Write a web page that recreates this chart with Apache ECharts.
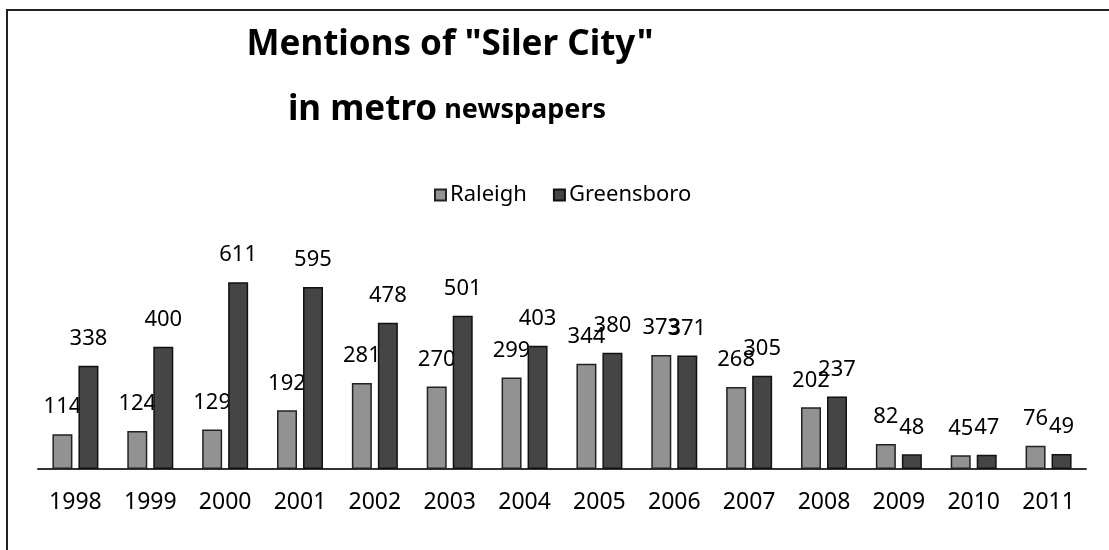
<!DOCTYPE html>
<html>
<head>
<meta charset="utf-8">
<script src="https://cdn.jsdelivr.net/npm/echarts@6/dist/echarts.min.js"></script>
<style>
  html, body { margin: 0; padding: 0; background: #fff; }
  #chart { width: 1109px; height: 550px; }
</style>
</head>
<body>
<div id="chart"></div>
<script>
var years = ['1998', '1999', '2000', '2001', '2002', '2003', '2004', '2005', '2006', '2007', '2008', '2009', '2010', '2011'];
var raleigh = [114, 124, 129, 192, 281, 270, 299, 344, 373, 268, 202, 82, 45, 76];
var greensboro = [338, 400, 611, 595, 478, 501, 403, 380, 371, 305, 237, 48, 47, 49];

var font = '"Noto Sans", "Open Sans", sans-serif';

var myChart = echarts.init(document.getElementById('chart'));
var option = {
	backgroundColor: '#fff',
	animation: false,
	graphic: [
		{ // 外框（左、上）
			type: 'polyline',
			shape: { points: [[7, 550], [7, 10], [1109, 10]] },
			style: { stroke: '#222', lineWidth: 2, fill: null }
		},
		{
			type: 'text',
			x: 450, y: 45,
			style: {
				text: 'Mentions of "Siler City"',
				font: 'bold 35px ' + font,
				fill: '#000',
				textAlign: 'center',
				textVerticalAlign: 'middle'
			}
		},
		{
			type: 'text',
			x: 447, y: 110,
			style: {
				text: '{a|in metro}{b| newspapers}',
				fill: '#000',
				textAlign: 'center',
				textVerticalAlign: 'middle',
				rich: {
					a: { fontFamily: font, fontWeight: 'bold', fontSize: 35, fill: '#000' },
					b: { fontFamily: font, fontWeight: 'bold', fontSize: 27, fill: '#000' }
				}
			}
		}
	],
	legend: {
		top: 179,
		left: 429,
		icon: 'rect',
		itemWidth: 11,
		itemHeight: 11,
		itemGap: 26,
		textStyle: { fontFamily: font, fontSize: 22, color: '#000', padding: [0, 0, 0, -1] },
		data: ['Raleigh', 'Greensboro']
	},
	grid: {
		left: 38,
		right: 23,
		top: 255,
		bottom: 81
	},
	xAxis: {
		type: 'category',
		data: years,
		axisLine: { lineStyle: { color: '#333', width: 2 } },
		axisTick: { show: false },
		axisLabel: { fontFamily: font, fontSize: 23, color: '#000', margin: 22 }
	},
	yAxis: {
		type: 'value',
		min: 0,
		max: 700,
		show: false,
		splitLine: { show: false }
	},
	series: [
		{
			name: 'Raleigh',
			type: 'bar',
			z: 2,
			barWidth: 20,
			barGap: '30%',
			itemStyle: { color: '#929292', borderColor: '#222', borderWidth: 1.5 },
			label: {
				show: true,
				position: 'top',
				distance: 16,
				fontFamily: font,
				fontSize: 22,
				color: '#000'
			},
			data: raleigh
		},
		{
			name: 'Greensboro',
			type: 'bar',
			z: 3,
			barWidth: 20,
			barGap: '30%',
			itemStyle: { color: '#454545', borderColor: '#111', borderWidth: 1.5 },
			label: {
				show: true,
				position: 'top',
				distance: 16,
				fontFamily: font,
				fontSize: 22,
				color: '#000'
			},
			data: greensboro
		}
	]
};
myChart.setOption(option);
</script>
</body>
</html>
